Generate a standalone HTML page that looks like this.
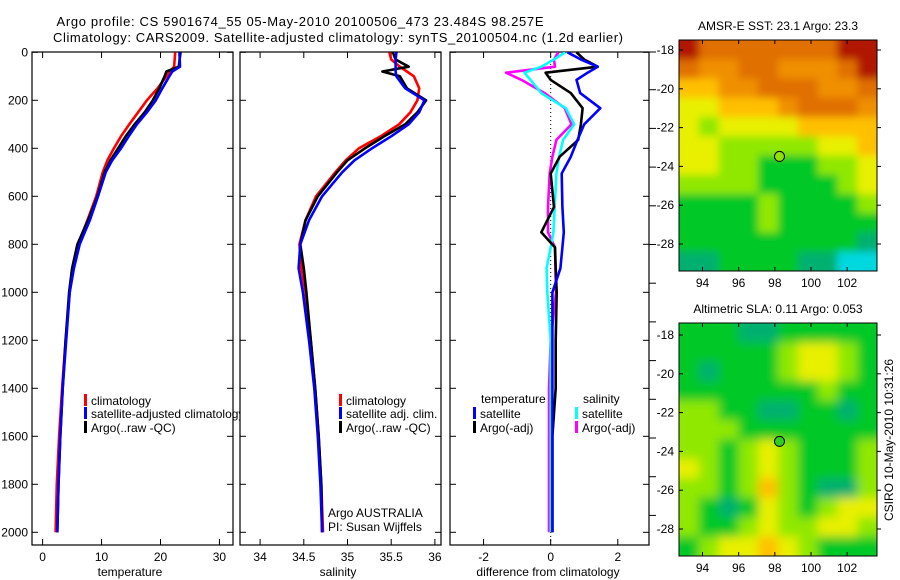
<!DOCTYPE html>
<html><head><meta charset="utf-8"><style>
html,body{margin:0;padding:0;background:#fff;}
svg{display:block;font-family:"Liberation Sans",sans-serif;}
</style></head><body>
<svg id="fig" width="900" height="580" viewBox="0 0 900 580">
<defs>
<clipPath id="c1"><rect x="32" y="52" width="208" height="493"/></clipPath>
<clipPath id="c2"><rect x="239" y="52" width="202" height="493"/></clipPath>
<clipPath id="c3"><rect x="450" y="52" width="199" height="493"/></clipPath>
<clipPath id="cm1"><rect x="679" y="40" width="198" height="231"/></clipPath>
<clipPath id="cm2"><rect x="679" y="323" width="198" height="233"/></clipPath>
<filter id="blur" x="-5%" y="-5%" width="110%" height="110%"><feGaussianBlur stdDeviation="5"/></filter>
<filter id="blur2" x="-5%" y="-5%" width="110%" height="110%"><feGaussianBlur stdDeviation="4"/></filter>
</defs>
<text x="300" y="26" font-size="13" text-anchor="middle" textLength="487">Argo profile: CS 5901674_55 05-May-2010 20100506_473 23.484S 98.257E</text>
<text x="338" y="42" font-size="13" text-anchor="middle" textLength="570">Climatology: CARS2009. Satellite-adjusted climatology: synTS_20100504.nc (1.2d earlier)</text>
<g id="g1"></g>
<g id="g2"></g>
<g id="g3"></g>
<g id="m1"></g>
<g id="m2"></g>
<text transform="translate(893,440) rotate(-90)" font-size="12" text-anchor="middle">CSIRO 10-May-2010 10:31:26</text>
</svg>
<script>
const depthT = [0,60,80,100,150,200,250,300,350,400,450,500,600,700,800,900,1000,1200,1400,1600,1800,2000];
const tempClim = [22.5,22.3,21.6,21,19.5,17.7,16.2,14.7,13.3,12.1,11,10.2,9.1,7.6,6.0,5.2,4.6,3.9,3.3,2.8,2.4,2.2];
const tempSat = [23.2,23.3,22,21.5,20.3,19.2,17.7,16,14.6,13.3,11.8,10.7,9.4,8,6.3,5.3,4.6,4,3.4,3.0,2.7,2.5];
const tempArgo = [23.4,23.1,21,20.7,19.8,18.7,17.3,15.6,14.1,12.8,11.5,10.5,9.3,7.7,5.9,5.0,4.5,3.9,3.4,3.0,2.7,2.5];
const depthS = [0,30,60,80,100,150,200,250,300,350,400,450,500,600,700,800,900,1000,1200,1400,1600,1800,2000];
const salClim = [35.48,35.5,35.6,35.68,35.76,35.82,35.8,35.72,35.59,35.38,35.13,34.98,34.86,34.64,34.52,34.45,34.47,34.52,34.58,34.63,34.67,34.7,34.72];
const salSat = [35.56,35.55,35.55,35.55,35.56,35.66,35.88,35.82,35.7,35.5,35.28,35.08,34.94,34.71,34.56,34.46,34.44,34.49,34.56,34.62,34.66,34.69,34.71];
const salArgo = [35.52,35.55,35.7,35.4,35.6,35.68,35.9,35.8,35.66,35.42,35.2,35.0,34.88,34.66,34.52,34.46,34.5,34.53,34.58,34.63,34.67,34.7,34.71];
const depthD = [0,30,60,85,115,170,233,300,365,435,505,645,750,813,900,1000,1200,1400,1600,1800,2000];
const dTSat = [0.5,0.9,1.4,1.1,0.77,0.88,1.48,1.0,0.8,0.6,0.33,0.35,0.39,0.35,0.29,0.05,0.05,0.05,0.05,0.05,0.05];
const dTArgo = [0.77,1.0,1.4,-0.15,0,0.6,0.95,0.9,0.82,0.27,0.0,0.1,-0.28,0.13,0.15,0.18,0.15,0.15,0.05,0.05,0.05];
const dSSat = [0.43,0.1,-0.28,-0.78,-0.6,-0.28,0.45,0.7,0.37,0.25,0.17,0.12,0.08,0.0,-0.12,-0.1,0,0,0,0,0];
const dSArgo = [0.23,0.1,0.13,-1.33,-0.87,-0.18,0.42,0.62,0.17,0.05,-0.03,-0.08,-0.08,0.13,0.14,0.16,0.0,-0.05,-0.05,-0.05,-0.05];
const depthTicks = [0,200,400,600,800,1000,1200,1400,1600,1800,2000];
const tempTicks = [0,10,20,30];
const salTicks = [34,34.5,35,35.5,36];
const diffTicks = [-2,0,2];
const lonTicks = [94,96,98,100,102];
const latTicks = [-18,-20,-22,-24,-26,-28];
const argoLon = 98.257, argoLat = -23.484;
const sstGrid = [
[8,7,7,7,7,7,7,7,8,8],
[7,6,6,7,7,6,6,6,7,8],
[5,5,6,6,7,7,7,6,6,7],
[4,4,5,5,5,6,7,7,7,6],
[4,3,4,4,4,4,5,5,5,5],
[4,4,3,3,3,3,3,4,4,5],
[4,4,3,3,2,2,2,3,3,4],
[3,3,3,3,2,2,2,2,3,4],
[2,2,2,2,3,2,2,2,2,3],
[2,2,2,2,3,2,2,2,2,2],
[2,2,2,2,2,2,2,2,2,1],
[1,1,2,2,2,2,1,1,0,0]];
const slaGrid = [
[2,2,2,1,1,2,2,2,2,2],
[2,2,2,2,2,3,4,4,3,2],
[2,1,2,2,2,3,4,4,3,2],
[2,2,2,2,2,2,2,3,2,2],
[3,3,2,2,1,1,2,2,1,2],
[3,3,3,2,2,2,2,2,2,2],
[3,3,2,3,4,3,2,2,2,3],
[4,3,2,3,4,3,2,2,2,3],
[3,3,2,3,5,3,2,1,1,3],
[3,2,1,2,4,3,2,3,4,4],
[3,2,2,3,4,3,3,4,4,3],
[2,3,4,4,5,4,3,2,2,2]];
const palette = ["#00d8e0","#00b070","#00c828","#90e800","#e8f000","#ffc000","#f09000","#e07000","#b01800"];

const NS = "http://www.w3.org/2000/svg";
function mk(parent, tag, attrs){ const e=document.createElementNS(NS,tag); for(const k in attrs) e.setAttribute(k,attrs[k]); parent.appendChild(e); return e; }
const yTop=52.3, yScale=0.24;
const yD = d => yTop + d*yScale;

function panel(g, x0, x1, clip, xmin, xmax, ticks, fmt, label, labelX, leftLabels){
  const xs = v => x0 + (v-xmin)/(xmax-xmin)*(x1-x0);
  const fr = mk(g,'rect',{x:x0,y:52,width:x1-x0,height:493,fill:'none',stroke:'#000','stroke-width':1.2});
   
  ticks.forEach(t=>{
    const X=xs(t);
    mk(g,'line',{x1:X,x2:X,y1:545,y2:539,stroke:'#000'});
    mk(g,'line',{x1:X,x2:X,y1:52,y2:58,stroke:'#000'});
    const tl=mk(g,'text',{x:X,y:561,'font-size':12,'text-anchor':'middle'}); tl.textContent=fmt(t);
     
  });
  depthTicks.forEach(d=>{
    const Y=yD(d);
    mk(g,'line',{x1:x0,x2:x0+6,y1:Y,y2:Y,stroke:'#000'});
    mk(g,'line',{x1:x1,x2:x1-6,y1:Y,y2:Y,stroke:'#000'});
    if(leftLabels){ const t=mk(g,'text',{x:x0-4,y:Y+4,'font-size':12,'text-anchor':'end'}); t.textContent=d;
        }
  });
  const xl=mk(g,'text',{x:labelX,y:576,'font-size':12,'text-anchor':'middle'}); xl.textContent=label;
   
  return xs;
}
function series(g, clip, xs, vals, depths, color, name){
  const pts = vals.map((v,i)=>xs(v).toFixed(1)+','+yD(depths[i]).toFixed(1)).join(' ');
  const p = mk(g,'polyline',{points:pts,fill:'none',stroke:color,'stroke-width':2.6,'clip-path':'url(#'+clip+')','stroke-linejoin':'round'});
  
  
}
function legend(g, x, y, color, text, name){
  mk(g,'rect',{x:x,y:y-6,width:3,height:12,fill:color});
  const t=mk(g,'text',{x:x+7,y:y+5,'font-size':12}); t.textContent=text;
  
  
}

const g1=document.getElementById('g1');
const xT = panel(g1,32,233,'c1',-1.8,32.3,tempTicks,t=>t,'temperature',130,true);
series(g1,'c1',xT,tempClim,depthT,'#ff0000','temp-climatology-line');
series(g1,'c1',xT,tempArgo,depthT,'#000000','temp-argo-line');
series(g1,'c1',xT,tempSat,depthT,'#0000ff','temp-satellite-line');
const lg1=mk(g1,'g',{'clip-path':'url(#c1)'});
legend(lg1,84,400,'#ff0000','climatology','legend-climatology');
legend(lg1,84,413,'#0000ff','satellite-adjusted climatology','legend-satellite-adjusted');
legend(lg1,84,427,'#000000','Argo(..raw -QC)','legend-argo');

const g2=document.getElementById('g2');
const xS = panel(g2,240,441,'c2',33.77,36.07,salTicks,t=>t,'salinity',338,false);
series(g2,'c2',xS,salClim,depthS,'#ff0000','sal-climatology-line');
series(g2,'c2',xS,salArgo,depthS,'#000000','sal-argo-line');
series(g2,'c2',xS,salSat,depthS,'#0000ff','sal-satellite-line');
legend(g2,339,400,'#ff0000','climatology','legend-climatology-2');
legend(g2,339,413,'#0000ff','satellite adj. clim.','legend-satellite-adj-2');
legend(g2,339,427,'#000000','Argo(..raw -QC)','legend-argo-2');
let t1=mk(g2,'text',{x:328,y:517,'font-size':12}); t1.textContent='Argo AUSTRALIA';
 
let t2=mk(g2,'text',{x:328,y:531,'font-size':12}); t2.textContent='PI: Susan Wijffels';
 

const g3=document.getElementById('g3');
const xDf = panel(g3,450,649,'c3',-3.0,2.93,diffTicks,t=>t===-2?'-2':t,'difference from climatology',548,false);
mk(g3,'line',{x1:xDf(0),x2:xDf(0),y1:52,y2:545,stroke:'#000','stroke-dasharray':'1,3'});
for(let i=0;i<12;i++){ const Y=89.7+i*38.7; if(Y<545) mk(g3,'line',{x1:649,x2:656,y1:Y,y2:Y,stroke:'#000'}); }
mk(g3,'line',{x1:649,x2:656,y1:52,y2:52,stroke:'#000'});
series(g3,'c3',xDf,dSArgo,depthD,'#ff00ff','diff-sal-argo-line');
series(g3,'c3',xDf,dSSat,depthD,'#00ffff','diff-sal-satellite-line');
series(g3,'c3',xDf,dTArgo,depthD,'#000000','diff-temp-argo-line');
series(g3,'c3',xDf,dTSat,depthD,'#0000ff','diff-temp-satellite-line');
let lt=mk(g3,'text',{x:481,y:403,'font-size':12}); lt.textContent='temperature';
 
let ls=mk(g3,'text',{x:583,y:403,'font-size':12}); ls.textContent='salinity';
 
legend(g3,473,413,'#0000ff','satellite','legend-temp-satellite');
legend(g3,473,427,'#000000','Argo(-adj)','legend-temp-argo');
legend(g3,575,413,'#00ffff','satellite','legend-sal-satellite');
legend(g3,575,427,'#ff00ff','Argo(-adj)','legend-sal-argo');

function map(g, x0, y0, w, h, clip, grid, title, latY18, blurId){
  const lonMin=92.7, lonMax=103.65;
  const xs = v => x0 + (v-lonMin)/(lonMax-lonMin)*w;
  const ys = v => latY18 + (-18 - v)*19.4;
  const latTop = -18 + (latY18-y0)/19.4, latBot = -18 - (y0+h-latY18)/19.4;
  const rows=grid.length, cols=grid[0].length;
  const cg = mk(g,'g',{'clip-path':'url(#'+clip+')'});
  const inner = mk(cg,'g',{filter:'url(#'+blurId+')'});
  grid.forEach((row,r)=>row.forEach((v,c)=>{
    const lo0 = lonMin + c*(lonMax-lonMin)/cols, lo1 = lonMin+(c+1)*(lonMax-lonMin)/cols;
    const la0 = latTop - r*(latTop-latBot)/rows, la1 = latTop-(r+1)*(latTop-latBot)/rows;
    const ex0 = c===0?-8:0, ex1=c===cols-1?8:0, ey0=r===0?-8:0, ey1=r===rows-1?8:0;
    const cell = mk(inner,'rect',{x:xs(lo0)+ex0,y:ys(la0)+ey0,width:xs(lo1)-xs(lo0)+1-ex0+ex1,height:ys(la1)-ys(la0)+1-ey0+ey1,fill:palette[v]});
    
    
  }));
  mk(g,'rect',{x:x0,y:y0,width:w,height:h,fill:'none',stroke:'#000','stroke-width':1});
  lonTicks.forEach(t=>{ const X=xs(t);
    mk(g,'line',{x1:X,x2:X,y1:y0+h,y2:y0+h-4,stroke:'#000'});
    mk(g,'line',{x1:X,x2:X,y1:y0,y2:y0+4,stroke:'#000'});
    const tl=mk(g,'text',{x:X,y:y0+h+16,'font-size':12,'text-anchor':'middle'}); tl.textContent=t;
     
  });
  latTicks.forEach(t=>{ const Y=ys(t);
    mk(g,'line',{x1:x0,x2:x0+4,y1:Y,y2:Y,stroke:'#000'});
    mk(g,'line',{x1:x0+w,x2:x0+w+4,y1:Y,y2:Y,stroke:'#000'});
    const tl=mk(g,'text',{x:x0-5,y:Y+4,'font-size':12,'text-anchor':'end'}); tl.textContent=t;
     
  });
  const tt=mk(g,'text',{x:x0+w/2,y:y0-10,'font-size':12,'text-anchor':'middle'}); tt.textContent=title;
   
  return {xs,ys};
}
const m1=document.getElementById('m1');
const a1 = map(m1,679,40,198,231,'cm1',sstGrid,'AMSR-E SST: 23.1 Argo: 23.3',50,'blur2');
const p1=mk(m1,'circle',{cx:a1.xs(argoLon),cy:a1.ys(argoLat),r:5,fill:'#90e000',stroke:'#000'});
 
const m2=document.getElementById('m2');
const a2 = map(m2,679,323,198,233,'cm2',slaGrid,'Altimetric SLA: 0.11 Argo: 0.053',335,'blur');
const p2=mk(m2,'circle',{cx:a2.xs(argoLon),cy:a2.ys(argoLat),r:5,fill:'#30d020',stroke:'#000'});
 
</script>
</body></html>
